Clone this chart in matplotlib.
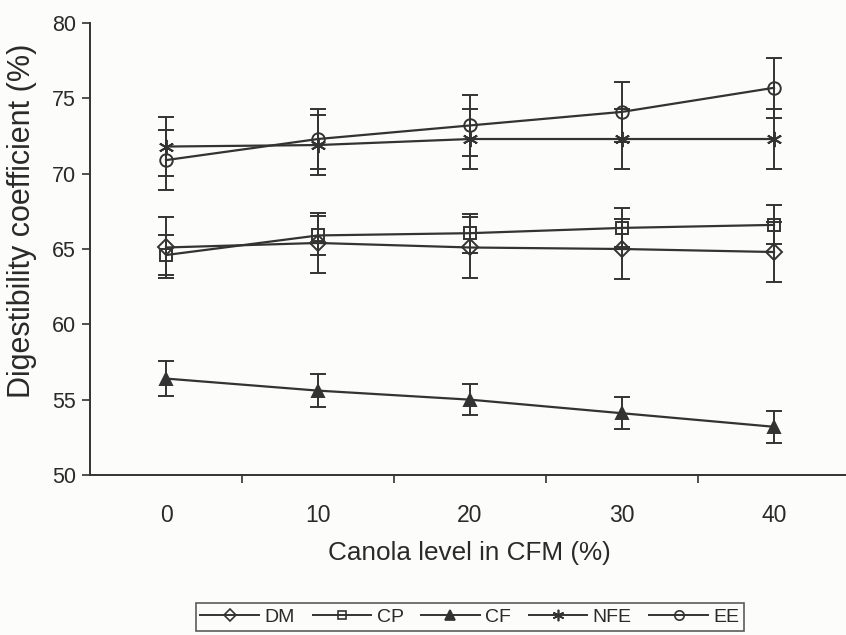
import matplotlib
matplotlib.use("Agg")
import matplotlib.pyplot as plt
from matplotlib.lines import Line2D

plt.rcParams['font.family'] = ['Liberation Sans', 'DejaVu Sans']

levels = [0, 10, 20, 30, 40]
DM = [65.1, 65.4, 65.1, 65.0, 64.8]
DM_err = [2.0, 2.0, 2.0, 2.0, 2.0]
CP = [64.6, 65.9, 66.05, 66.4, 66.6]
CP_err = [1.3, 1.3, 1.3, 1.3, 1.3]
CF = [56.4, 55.6, 55.0, 54.1, 53.2]
CF_err = [1.15, 1.1, 1.05, 1.05, 1.05]
NFE = [71.8, 71.9, 72.3, 72.3, 72.3]
NFE_err = [1.95, 2.0, 2.0, 2.0, 2.0]
EE = [70.9, 72.3, 73.2, 74.1, 75.7]
EE_err = [2.0, 2.0, 2.0, 2.0, 2.0]
xtick_labels = ['0', '10', '20', '30', '40']

col = '#333333'
txt = '#2a2a2a'
bg = '#fcfcfa'
fig = plt.figure(figsize=(8.46, 6.35), dpi=100, facecolor=bg)
ax = fig.add_axes([90/846, 1-475/635, 760/846, 452/635])
ax.set_facecolor(bg)

series = [
    ('DM', DM, DM_err, dict(marker='D', ms=8, mfc='none')),
    ('CP', CP, CP_err, dict(marker='s', ms=8, mfc='none')),
    ('CF', CF, CF_err, dict(marker='^', ms=9, mfc=col)),
    ('NFE', NFE, NFE_err, dict(marker=(6, 2, 0), ms=11, mfc=col)),
    ('EE', EE, EE_err, dict(marker='o', ms=9, mfc='none')),
]
handles = []
for name, y, e, mk in series:
    ax.errorbar(levels, y, yerr=e, color=col, lw=1.6, capsize=6, capthick=1.6,
                elinewidth=1.4, mec=col, mew=1.4, **mk)
    hmk = dict(mk)
    hmk['ms'] = mk['ms'] * 0.75
    handles.append(Line2D([], [], color=col, lw=1.4, mec=col, mew=1.2, label=name, **hmk))

ax.set_xlim(-5, 45)
ax.set_ylim(50, 80)
ax.set_yticks([50, 55, 60, 65, 70, 75, 80])
ax.tick_params(axis='y', direction='out', length=6, width=1.2, pad=4,
               labelsize=15.5, colors=col, labelcolor=txt)
ax.set_xticks([5, 15, 25, 35])
ax.set_xticklabels([])
ax.set_xticks(levels, minor=True)
ax.set_xticklabels(xtick_labels, minor=True)
ax.tick_params(axis='x', which='major', direction='out', length=6, width=1.2, colors=col)
ax.tick_params(axis='x', which='minor', length=0, pad=21, labelsize=16.5, labelcolor=txt)

for s in ['top', 'right']:
    ax.spines[s].set_visible(False)
for s in ['left', 'bottom']:
    ax.spines[s].set_color(col)
    ax.spines[s].set_linewidth(1.4)

ax.set_ylabel('Digestibility coefficient (%)', fontsize=22, color=txt)
ax.set_xlabel('Canola level in CFM (%)', fontsize=18.8, color=txt)
ax.xaxis.set_label_coords((469 - 90) / 760, -(541 - 475) / 452)
ax.yaxis.set_label_coords(-(90 - 37) / 760, (475 - 221) / 452)

leg = fig.legend(handles=handles, loc='center', bbox_to_anchor=(470/846, 1-617/635), ncol=5,
                 frameon=True, fancybox=False, edgecolor=col, fontsize=14,
                 handlelength=3.0, handletextpad=0.3, columnspacing=0.9,
                 borderpad=0.25, borderaxespad=0)
leg.get_frame().set_linewidth(1.2)
leg.get_frame().set_facecolor(bg)
for t in leg.get_texts():
    t.set_color(txt)

fig.savefig('out.png', dpi=100, facecolor=fig.get_facecolor())
